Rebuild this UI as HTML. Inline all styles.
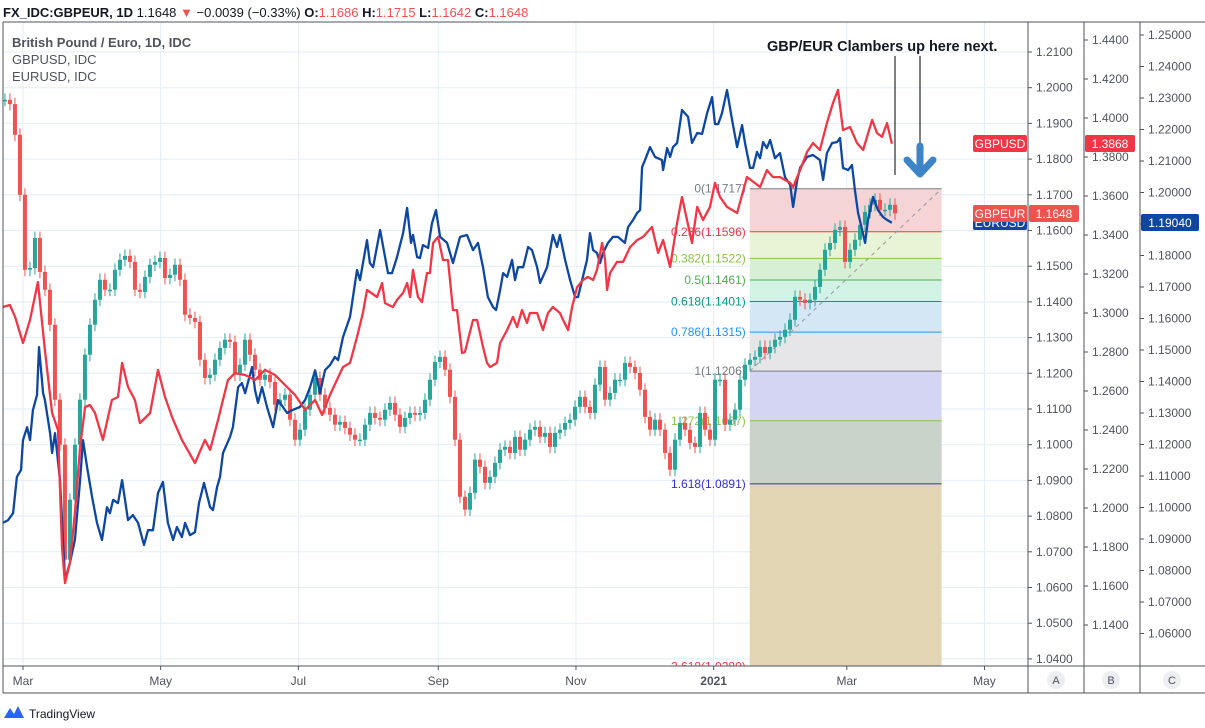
<!DOCTYPE html>
<html><head><meta charset="utf-8">
<style>
html,body{margin:0;padding:0;background:#fff;}
body{width:1205px;height:723px;overflow:hidden;font-family:"Liberation Sans",sans-serif;}
svg text{font-family:"Liberation Sans",sans-serif;}
</style></head>
<body>
<svg id="chart" width="1205" height="723" viewBox="0 0 1205 723" xmlns="http://www.w3.org/2000/svg">
  <g id="grid"></g>
  <g id="fib"></g>
  <g id="candles"></g>
  <g id="lines"></g>
  <g id="axes"></g>

  <text x="3" y="17" font-size="13" fill="#131722"><tspan font-weight="bold">FX_IDC:GBPEUR, 1D</tspan> 1.1648 <tspan fill="#ef5350">▼</tspan> −0.0039 (−0.33%) <tspan font-weight="bold">O:</tspan><tspan fill="#ef5350">1.1686</tspan> <tspan font-weight="bold">H:</tspan><tspan fill="#ef5350">1.1715</tspan> <tspan font-weight="bold">L:</tspan><tspan fill="#ef5350">1.1642</tspan> <tspan font-weight="bold">C:</tspan><tspan fill="#ef5350">1.1648</tspan></text>
  <text x="12" y="47" font-size="13" font-weight="bold" fill="#50535e">British Pound / Euro, 1D, IDC</text>
  <text x="12" y="64" font-size="13" fill="#50535e">GBPUSD, IDC</text>
  <text x="12" y="81" font-size="13" fill="#50535e">EURUSD, IDC</text>

  <text x="767" y="51" font-size="14.5" font-weight="bold" fill="#131722">GBP/EUR Clambers up here next.</text>
  <line x1="895" y1="56" x2="895" y2="175" stroke="#000" stroke-width="1"/>
  <line x1="920" y1="56" x2="920" y2="143" stroke="#000" stroke-width="1"/>
  <g>
    <line x1="920" y1="146" x2="920" y2="170" stroke="#3d85c6" stroke-width="7" stroke-linecap="round"/>
    <polyline points="907,160 920,174 933,160" fill="none" stroke="#3d85c6" stroke-width="7" stroke-linecap="round" stroke-linejoin="round"/>
  </g>

  <g>
    <rect x="973" y="135" width="54" height="17" rx="2" fill="#f23645"/>
    <text x="1000" y="148" font-size="12" fill="#fff" text-anchor="middle">GBPUSD</text>
    <rect x="973" y="214" width="54" height="16" rx="2" fill="#0d47a1"/>
    <text x="1000" y="227" font-size="12" fill="#fff" text-anchor="middle">EURUSD</text>
    <rect x="973" y="205" width="54" height="17" rx="2" fill="#ef5350"/>
    <text x="1000" y="218" font-size="12" fill="#fff" text-anchor="middle">GBPEUR</text>
    <rect x="1029" y="205" width="50" height="17" rx="2" fill="#ef5350"/>
    <text x="1054" y="218" font-size="12" fill="#fff" text-anchor="middle">1.1648</text>
    <rect x="1085" y="135" width="50" height="17" rx="2" fill="#f23645"/>
    <text x="1110" y="148" font-size="12" fill="#fff" text-anchor="middle">1.3868</text>
    <rect x="1141" y="214" width="58" height="17" rx="2" fill="#0d47a1"/>
    <text x="1170" y="227" font-size="12" fill="#fff" text-anchor="middle">1.19040</text>
  </g>

  <g>
    <path d="M4 718 L10 708 L14 714 L18 706 L24 718 Z" fill="#2962ff"/>
    <text x="29" y="718" font-size="12" fill="#131722">TradingView</text>
  </g>
</svg>
<script>
// ---- data ----
const candleStartDay = -8;
const candleStepDays = 2.2155;
const gbpeurClose = [1.1966,1.1954,1.1868,1.1700,1.1490,1.1495,1.1579,1.1484,1.1434,1.1336,1.1126,1.1000,1.0678,1.0846,1.1000,1.1126,1.1252,1.1336,1.1406,1.1462,1.1434,1.1434,1.1490,1.1518,1.1529,1.1512,1.1434,1.1428,1.1470,1.1504,1.1512,1.1523,1.1467,1.1476,1.1504,1.1462,1.1364,1.1355,1.1344,1.1238,1.1187,1.1196,1.1238,1.1271,1.1294,1.1288,1.1196,1.1224,1.1294,1.1252,1.1210,1.1182,1.1196,1.1176,1.1112,1.1126,1.1140,1.1070,1.1014,1.1042,1.1098,1.1140,1.1187,1.1140,1.1103,1.1084,1.1056,1.1064,1.1047,1.1028,1.1014,1.1014,1.1056,1.1089,1.1075,1.1070,1.1098,1.1117,1.1084,1.1050,1.1075,1.1089,1.1084,1.1089,1.1126,1.1182,1.1232,1.1246,1.1210,1.1134,1.1014,1.0854,1.0818,1.0865,1.0958,1.0938,1.0893,1.0910,1.0949,1.0986,1.0994,1.0977,1.1022,1.0986,1.1014,1.1042,1.1050,1.1022,1.1033,1.0994,1.1033,1.1042,1.1061,1.1070,1.1106,1.1134,1.1106,1.1089,1.1168,1.1218,1.1126,1.1145,1.1182,1.1182,1.1229,1.1218,1.1201,1.1154,1.1078,1.1042,1.1070,1.1042,1.0977,1.0930,1.1014,1.1061,1.1042,1.1005,1.0994,1.1089,1.1042,1.1014,1.1182,1.1182,1.1056,1.1070,1.1098,1.1182,1.1224,1.1238,1.1246,1.1274,1.1257,1.1274,1.1294,1.1302,1.1322,1.1350,1.1414,1.1406,1.1397,1.1406,1.1442,1.1490,1.1546,1.1565,1.1602,1.1610,1.1512,1.1546,1.1574,1.1616,1.1652,1.1672,1.1686,1.1658,1.1658,1.1672,1.1648];
const gbpusdDays = [-8.9,-5.8,-3.5,0,3.1,6.6,9.7,12.9,15.5,17.3,18.6,20.8,23.0,25.3,27.5,29.7,31.9,35.4,39.4,42.1,43.9,46.5,49.6,51.8,56.3,59.8,62.9,66.0,70.4,76.2,80.6,82.9,86.4,90.8,93.9,98.4,102.8,107.2,111.7,116.1,120.5,125.0,129.4,132.5,136.0,141.8,144.9,148.0,150.6,152.4,156.9,159.1,160.4,163.9,165.7,168.4,170.2,171.5,172.8,175.0,176.8,179.0,180.3,181.7,183.9,186.1,188.3,190.5,192.3,194.5,195.8,199.4,201.2,203.8,205.6,206.9,210.0,211.4,214.5,217.1,218.9,221.1,223.3,224.6,227.8,230.4,232.6,234.8,237.9,239.3,241.5,243.3,245.5,248.1,250.3,252.6,254.3,256.6,257.9,258.8,260.1,263.2,265.9,269.0,272.1,274.7,278.7,281.4,283.6,286.7,289.8,292.0,294.2,296.4,298.7,301.3,304.4,306.6,308.8,311.9,316.4,320.8,326.6,329.6,332.3,335.4,339.9,341.2,344.3,347.4,350.0,353.1,356.2,358.9,361.1,363.3,366.4,369.5,372.2,376.2,378.4,380.6,382.8,385.0];
const gbpusdVals = [1.3031,1.3041,1.2980,1.2846,1.2964,1.3159,1.2810,1.2487,1.2400,1.1800,1.1615,1.1718,1.1974,1.2313,1.2518,1.2528,1.2487,1.2349,1.2554,1.2569,1.2744,1.2621,1.2554,1.2436,1.2487,1.2708,1.2569,1.2467,1.2349,1.2231,1.2349,1.2298,1.2451,1.2656,1.2692,1.2682,1.2656,1.2708,1.2682,1.2631,1.2580,1.2503,1.2554,1.2477,1.2580,1.2723,1.2744,1.2877,1.3000,1.3118,1.3082,1.3154,1.3051,1.3031,1.3067,1.3103,1.3154,1.3082,1.3221,1.3082,1.3056,1.3205,1.3205,1.3359,1.3390,1.3272,1.3272,1.3015,1.3015,1.2795,1.2800,1.2964,1.2964,1.2826,1.2744,1.2723,1.2744,1.2846,1.2913,1.2980,1.2928,1.3015,1.2949,1.3000,1.3000,1.2913,1.3000,1.3031,1.3000,1.2964,1.2913,1.3031,1.3133,1.3169,1.3185,1.3169,1.3221,1.3359,1.3272,1.3118,1.3205,1.3262,1.3262,1.3338,1.3374,1.3390,1.3441,1.3308,1.3374,1.3236,1.3462,1.3595,1.3477,1.3359,1.3544,1.3477,1.3544,1.3667,1.3595,1.3544,1.3513,1.3697,1.3646,1.3733,1.3697,1.3697,1.3667,1.3646,1.3733,1.3826,1.3872,1.3836,1.3974,1.4077,1.4144,1.3938,1.3954,1.3872,1.3836,1.3990,1.3923,1.3903,1.3974,1.3868];
const eurusdDays = [-8.9,-6.6,-4.4,-2.7,-0.9,0,1.8,3.1,4.4,6.2,7.1,8.9,9.7,12.0,12.9,14.2,16.4,18.6,20.8,23.0,25.3,26.6,28.4,30.6,32.8,35.0,37.2,38.5,39.9,42.1,43.9,46.5,48.7,51.0,53.6,55.4,57.6,59.8,62.0,64.2,66.5,68.2,70.4,71.8,74.0,76.2,78.0,80.2,82.9,84.2,86.0,87.3,88.6,91.7,93.0,95.3,97.0,98.4,101.5,102.8,104.1,105.9,108.1,110.8,113.0,117.0,119.2,122.7,125.0,127.2,129.4,131.6,133.8,136.0,138.2,139.6,141.8,144.9,148.0,149.3,152.4,153.7,155.1,158.2,161.7,163.5,165.7,168.4,170.2,171.9,172.8,174.6,175.9,177.2,179.5,181.2,183.0,184.8,187.9,190.5,193.6,196.7,199.4,201.6,203.8,206.0,208.3,209.6,211.4,212.7,214.5,216.7,218.0,219.3,221.6,223.8,225.5,227.8,229.1,232.2,234.8,236.6,237.9,240.2,242.4,244.6,245.9,247.7,249.9,251.2,252.6,254.3,255.7,257.0,259.2,261.4,263.6,266.7,268.1,270.3,272.1,273.4,274.3,275.6,277.8,280.0,283.1,283.6,285.4,286.7,288.0,289.8,292.0,294.7,296.4,298.7,300.9,303.1,305.3,306.6,308.0,309.7,311.9,314.2,316.4,318.6,319.9,322.1,323.5,325.2,326.6,327.9,329.6,331.0,333.2,335.4,337.6,339.9,341.2,343.0,344.3,347.4,350.0,353.1,354.5,356.2,358.5,360.7,362.0,363.3,365.6,367.3,368.6,370.0,371.8,373.1,374.4,376.6,378.8,381.1,382.8,385.0];
const eurusdVals = [1.0951,1.0960,1.0982,1.1097,1.1119,1.1214,1.1255,1.1214,1.1309,1.1357,1.1509,1.1363,1.1341,1.1236,1.1173,1.1236,1.1087,1.0770,1.0824,1.0897,1.1087,1.1214,1.1128,1.1033,1.0951,1.0897,1.1001,1.0982,1.1024,1.1014,1.1087,1.0960,1.0976,1.0951,1.0881,1.0928,1.0928,1.1046,1.1081,1.0951,1.0897,1.0938,1.0906,1.0951,1.0912,1.0922,1.1014,1.1078,1.1001,1.0992,1.1065,1.1097,1.1173,1.1224,1.1255,1.1382,1.1395,1.1363,1.1446,1.1373,1.1332,1.1382,1.1319,1.1255,1.1341,1.1300,1.1309,1.1319,1.1341,1.1382,1.1436,1.1363,1.1436,1.1452,1.1478,1.1468,1.1541,1.1605,1.1754,1.1722,1.1849,1.1776,1.1763,1.1881,1.1744,1.1744,1.1795,1.1871,1.1951,1.1840,1.1865,1.1795,1.1792,1.1833,1.1824,1.1903,1.1944,1.1859,1.1840,1.1776,1.1859,1.1865,1.1817,1.1840,1.1763,1.1668,1.1636,1.1627,1.1690,1.1744,1.1732,1.1786,1.1722,1.1763,1.1763,1.1827,1.1817,1.1763,1.1713,1.1763,1.1865,1.1827,1.1865,1.1786,1.1722,1.1668,1.1668,1.1722,1.1786,1.1871,1.1817,1.1808,1.1776,1.1808,1.1840,1.1859,1.1859,1.1840,1.1890,1.1913,1.1935,1.1944,1.2081,1.2103,1.2144,1.2113,1.2103,1.2071,1.2141,1.2113,1.2144,1.2157,1.2262,1.2240,1.2157,1.2189,1.2186,1.2252,1.2303,1.2217,1.2217,1.2252,1.2325,1.2230,1.2144,1.2214,1.2157,1.2078,1.2078,1.2129,1.2109,1.2160,1.2141,1.2167,1.2109,1.2125,1.2049,1.2024,1.1954,1.2040,1.2078,1.2113,1.2119,1.2103,1.2040,1.2125,1.2157,1.2160,1.2173,1.2078,1.2071,1.2087,1.2008,1.1935,1.1881,1.1840,1.1913,1.1986,1.1944,1.1922,1.1913,1.1904];
const monthLabels = ["Mar","May","Jul","Sep","Nov","2021","Mar","May"];
const monthDays = [0,61,122,184,245,306,365,426];
const ticksA = [1.21,1.20,1.19,1.18,1.17,1.16,1.15,1.14,1.13,1.12,1.11,1.10,1.09,1.08,1.07,1.06,1.05,1.04];
const ticksB = [1.44,1.42,1.40,1.38,1.36,1.34,1.32,1.30,1.28,1.26,1.24,1.22,1.20,1.18,1.16,1.14];
const ticksC = [1.25,1.24,1.23,1.22,1.21,1.20,1.19,1.18,1.17,1.16,1.15,1.14,1.13,1.12,1.11,1.10,1.09,1.08,1.07,1.06,1.05];
const fibRatios = [0,0.236,0.382,0.5,0.618,0.786,1,1.272,1.618,2.618];
const fibPriceLabels = ["1.1717","1.1596","1.1522","1.1461","1.1401","1.1315","1.1206","1.1067","1.0891","1.0280"];
const fibHigh = 1.1717, fibLow = 1.1206;
const fibStartDay = 322, fibEndDay = 407;
const wickPad = 0.0018;

// ---- scales ----
const PL=3, PR=1028, PT=22, PB=666;
const xS = d => 23 + d*2.257;
const yA = v => 52 + (1.21 - v)*3570;
const yB = v => 40 + (1.44 - v)*1950;
const yC = v => 35 + (1.25 - v)*3150;
const NS="http://www.w3.org/2000/svg";
function mk(tag, attrs, parent){const e=document.createElementNS(NS,tag);for(const k in attrs)e.setAttribute(k,attrs[k]);parent.appendChild(e);return e;}

const svg=document.getElementById('chart');
let defs=mk('defs',{},svg);
let cp=mk('clipPath',{id:'plotclip'},defs);
mk('rect',{x:PL,y:PT,width:PR-PL,height:PB-PT},cp);

// grid
const grid=document.getElementById('grid');
ticksA.forEach(v=>{const y=yA(v);if(y>PT&&y<PB){const l=mk('line',{x1:PL,x2:PR,y1:y,y2:y,stroke:'#e4eef4','stroke-width':1},grid);

}});
monthDays.forEach(d=>{const x=xS(d);const l=mk('line',{x1:x,x2:x,y1:PT,y2:PB,stroke:'#e4eef4','stroke-width':1},grid);

});

// fib
const fib=document.getElementById('fib');
fib.setAttribute('clip-path','url(#plotclip)');
const fibLine=['#787b86','#f23645','#8bc34a','#4caf50','#089981','#2196f3','#787b86','#8bc34a','#3030d0','#f23645'];
const fibFill=['#f5d4d6','#e9f3d6','#d6f0d6','#d2f2e6','#d3e8f4','#e6e6e8','#d4d4f3','#c9d3c9','#e1d5b4'];
const fx1=xS(fibStartDay), fx2=xS(fibEndDay);
const fibPrice = r => fibHigh - r*(fibHigh-fibLow);
for(let i=0;i<fibRatios.length-1;i++){
  const ya=yA(fibPrice(fibRatios[i])), yb=yA(fibPrice(fibRatios[i+1]));
  const r=mk('rect',{x:fx1,y:ya,width:fx2-fx1,height:yb-ya,fill:fibFill[i]},fib);
  
  
}
fibRatios.forEach((r,i)=>{
  const p=fibPrice(r), y=yA(p);
  const l=mk('line',{x1:fx1,x2:fx2,y1:y,y2:y,stroke:fibLine[i],'stroke-width':1},fib);
  
  
  const t=mk('text',{x:fx1-4,y:y+4,'font-size':12,fill:fibLine[i],'text-anchor':'end'},fib);
  t.textContent=r+'('+fibPriceLabels[i]+')';
  
  
});
const dl=mk('line',{x1:fx1,y1:yA(fibLow),x2:fx2,y2:yA(fibHigh),stroke:'#9598a1','stroke-width':1,'stroke-dasharray':'4,4'},fib);



// candles
const cg=document.getElementById('candles');
cg.setAttribute('clip-path','url(#plotclip)');
gbpeurClose.forEach((c,i)=>{
  const o = i>0 ? gbpeurClose[i-1] : c;
  const x = xS(candleStartDay + i*candleStepDays);
  const up = c>=o, col = up?'#26a69a':'#ef5350';
  const hi=Math.max(o,c)+wickPad, lo=Math.min(o,c)-wickPad;
  const g=mk('g',{},cg);
  
  
  mk('line',{x1:x,x2:x,y1:yA(hi),y2:yA(lo),stroke:col,'stroke-width':1},g);
  const y1=yA(Math.max(o,c)), y2=yA(Math.min(o,c));
  mk('rect',{x:x-2,y:y1,width:4,height:Math.max(1.5,y2-y1),fill:col},g);
});

// lines
const lg=document.getElementById('lines');
lg.setAttribute('clip-path','url(#plotclip)');
function drawLine(days,vals,ys,col,name){
  const n=Math.min(days.length,vals.length);
  let d='';for(let i=0;i<n;i++)d+=(i?'L':'M')+xS(days[i]).toFixed(1)+' '+ys(vals[i]).toFixed(1);
  const p=mk('path',{d:d,fill:'none',stroke:col,'stroke-width':2.3,'stroke-linejoin':'round'},lg);
  
  
}
drawLine(eurusdDays,eurusdVals,yC,'#0d47a1','eurusd-line');
drawLine(gbpusdDays,gbpusdVals,yB,'#f23645','gbpusd-line');

// axes
const ax=document.getElementById('axes');
const frame=[[PL,PT,1205,PT],[PL,PT,PL,693],[PL,PB,1205,PB],[PL,693,1205,693],[1028,PT,1028,693],[1084,PT,1084,693],[1140,PT,1140,693]];
frame.forEach(f=>{const l=mk('line',{x1:f[0],y1:f[1],x2:f[2],y2:f[3],stroke:'#50535e','stroke-width':1},ax);

});
function axisTicks(ticks,ys,x0,dec,name){
  ticks.forEach(v=>{const y=ys(v);if(y<PT+4||y>PB-2)return;
    mk('line',{x1:x0,x2:x0+4,y1:y,y2:y,stroke:'#50535e'},ax);
    const t=mk('text',{x:x0+8,y:y+4,'font-size':12,fill:'#50535e'},ax);
    t.textContent=v.toFixed(dec);
    
    });
}
axisTicks(ticksA,yA,1028,4,'axis-a-tick');
axisTicks(ticksB,yB,1084,4,'axis-b-tick');
axisTicks(ticksC,yC,1140,5,'axis-c-tick');
monthLabels.forEach((m,i)=>{const x=xS(monthDays[i]);
  mk('line',{x1:x,x2:x,y1:PB,y2:PB+4,stroke:'#50535e'},ax);
  const t=mk('text',{x:x,y:685,'font-size':12,fill:'#50535e','text-anchor':'middle','font-weight':m==='2021'?'bold':'normal'},ax);
  t.textContent=m;
  
  });
[['A',1056],['B',1111],['C',1172]].forEach(a=>{
  const g=mk('g',{},ax);
  
  
  mk('circle',{cx:a[1],cy:680,r:9,fill:'#eceef2'},g);
  const t=mk('text',{x:a[1],y:684,'font-size':11,fill:'#50535e','text-anchor':'middle'},g);t.textContent=a[0];
});
</script>
</body></html>
